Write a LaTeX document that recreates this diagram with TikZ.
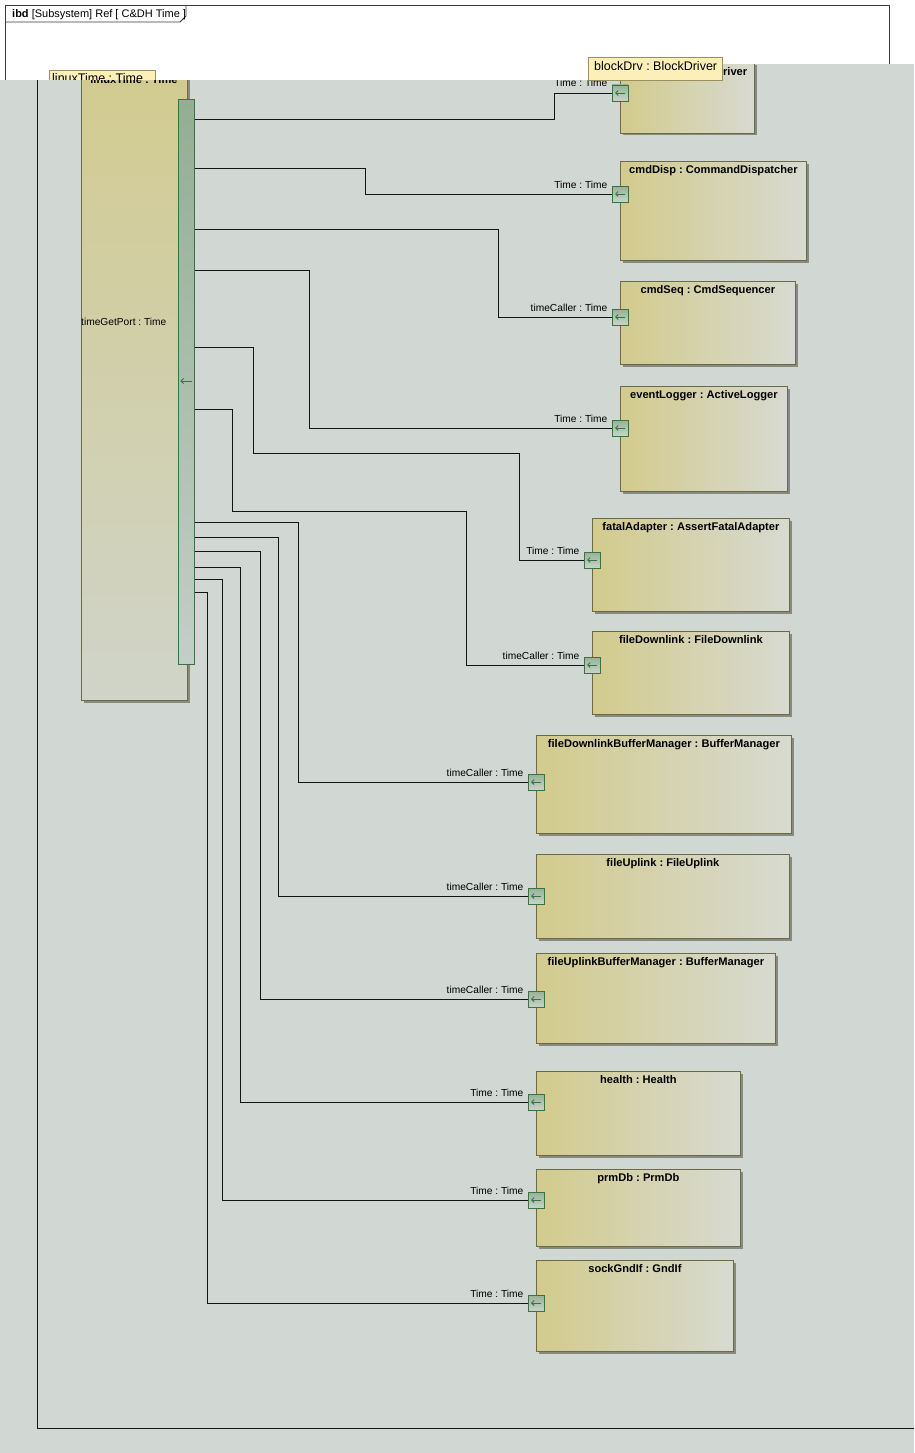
\documentclass[tikz,border=0pt]{standalone}
\usepackage{fontspec}
\setmainfont{Liberation Sans}
\usetikzlibrary{arrows.meta,calc}
\frenchspacing
\definecolor{bg}{HTML}{D1D7D2}
\definecolor{blkL}{HTML}{D3CB8D}
\definecolor{blkR}{HTML}{D7DAD1}
\definecolor{blkB}{HTML}{6B6B45}
\definecolor{shad}{HTML}{868A80}
\definecolor{portB}{HTML}{3E7046}
\definecolor{portT}{HTML}{97B197}
\definecolor{portBo}{HTML}{C8D5CA}
\definecolor{stripT}{HTML}{93AE93}
\definecolor{stripBo}{HTML}{C3CEC7}
\definecolor{ltT}{HTML}{D2CB90}
\definecolor{ltB}{HTML}{D0D4C9}
\definecolor{tabF}{HTML}{FCF0B8}
\definecolor{tabB}{HTML}{9C8F5E}
\definecolor{wirec}{HTML}{141414}
\definecolor{framec}{HTML}{3A3A3A}
\tikzset{
  blockbox/.style={draw=blkB, line width=0.8pt, left color=blkL, right color=blkR, inner sep=0pt, anchor=north west},
  titletext/.style={font=\fontsize{11.1}{13}\selectfont\bfseries, inner sep=0pt, text=black},
  porttext/.style={font=\fontsize{10.2}{12}\selectfont, inner sep=0pt, text=black},
  port/.style={draw=portB, line width=0.8pt, top color=portT, bottom color=portBo, minimum size=16pt, inner sep=0pt},
  parr/.style={draw=portB, line width=0.9pt, -{Straight Barb[length=2.5pt,width=5pt]}},
  stripbox/.style={draw=portB, line width=0.8pt, top color=stripT, bottom color=stripBo, inner sep=0pt, anchor=north west},
  wire/.style={draw=wirec, line width=0.9pt},
  framel/.style={draw=framec, line width=0.8pt},
  tabbox/.style={draw=tabB, line width=0.7pt, fill=tabF, inner sep=0pt, anchor=north west},
  tabtext/.style={font=\fontsize{12.5}{14}\selectfont, inner sep=0pt, text=black}
}
% block: name, x1, y1, x2, y2, title
\newcommand\blk[6]{%
  \fill[shad] (#2+2.5,#3+2.5) rectangle (#4+2.5,#5+2.5);
  \node[blockbox, minimum width={(#4-#2)*1pt}, minimum height={(#5-#3)*1pt}] (#1) at (#2,#3) {};
  \node[titletext, anchor=base] (#1-t) at ($(#1.north)+(0,12.5)$) {#6};
}
% port: name, block, y, label
\newcommand\prt[4]{%
  \node[port] (#1) at (#2.west |- 0,#3) {};
  \draw[parr] ($(#1.center)+(5,0)$) -- ($(#1.center)+(-5,0)$);
  \node[porttext, anchor=base east] (#1-l) at ($(#1.west)+(-4,-6)$) {#4};
}
\begin{document}
\begin{tikzpicture}[x=1pt,y=-1pt]
\useasboundingbox (0,0) rectangle (914,1453);
\fill[bg] (0,0) rectangle (914,1453);
\draw[wire] (37,80) -- (37,1428) -- (914,1428);

% linuxTime part with its port strip
\fill[shad] (83.5,72.5) rectangle (189.5,702.5);
\node[draw=blkB, line width=0.8pt, top color=ltT, bottom color=ltB, inner sep=0pt, anchor=north west, minimum width=106pt, minimum height=630pt] (lt) at (81,70) {};
\node[titletext, anchor=base] (lt-t) at (134,84) {linuxTime : Time};
\node[porttext, anchor=base west] (lt-l) at (81,325) {timeGetPort : Time};
\node[stripbox, minimum width=16pt, minimum height=565pt] (strip) at (178,99) {};
\draw[parr] ($(strip.center |- 0,381)+(6,0)$) -- ($(strip.center |- 0,381)+(-6,0)$);

% blocks
\blk{bd}{620}{63}{754}{133}{blockDrv : BlockDriver}
\blk{cd}{620}{161}{806}{260}{cmdDisp : CommandDispatcher}
\blk{cs}{620}{281}{795}{364}{cmdSeq : CmdSequencer}
\blk{el}{620}{386}{787}{491}{eventLogger : ActiveLogger}
\blk{fa}{592}{518}{789}{611}{fatalAdapter : AssertFatalAdapter}
\blk{fd}{592}{631}{789}{714}{fileDownlink : FileDownlink}
\blk{fdb}{536}{735}{791}{833}{fileDownlinkBufferManager : BufferManager}
\blk{fu}{536}{854}{789}{938}{fileUplink : FileUplink}
\blk{fub}{536}{953}{775}{1043}{fileUplinkBufferManager : BufferManager}
\blk{he}{536}{1071}{740}{1155}{health : Health}
\blk{pd}{536}{1169}{740}{1246}{prmDb : PrmDb}
\blk{sg}{536}{1260}{733}{1351}{sockGndIf : GndIf}

% ports
\prt{p1}{bd}{93}{Time : Time}
\prt{p2}{cd}{194}{Time : Time}
\prt{p3}{cs}{317}{timeCaller : Time}
\prt{p4}{el}{428}{Time : Time}
\prt{p5}{fa}{560}{Time : Time}
\prt{p6}{fd}{665}{timeCaller : Time}
\prt{p7}{fdb}{782}{timeCaller : Time}
\prt{p8}{fu}{896}{timeCaller : Time}
\prt{p9}{fub}{999}{timeCaller : Time}
\prt{p10}{he}{1102}{Time : Time}
\prt{p11}{pd}{1200}{Time : Time}
\prt{p12}{sg}{1303}{Time : Time}

% connectors
\draw[wire] (strip.east |- 0,119) -- (554,119) |- (p1.west);
\draw[wire] (strip.east |- 0,168) -- (365,168) |- (p2.west);
\draw[wire] (strip.east |- 0,229) -- (498,229) |- (p3.west);
\draw[wire] (strip.east |- 0,270) -- (309,270) |- (p4.west);
\draw[wire] (strip.east |- 0,347) -- (253,347) -- (253,453) -- (519,453) |- (p5.west);
\draw[wire] (strip.east |- 0,409) -- (232,409) -- (232,511) -- (466,511) |- (p6.west);
\draw[wire] (strip.east |- 0,522) -- (298,522) |- (p7.west);
\draw[wire] (strip.east |- 0,537) -- (278,537) |- (p8.west);
\draw[wire] (strip.east |- 0,551) -- (260,551) |- (p9.west);
\draw[wire] (strip.east |- 0,567) -- (240,567) |- (p10.west);
\draw[wire] (strip.east |- 0,579) -- (222,579) |- (p11.west);
\draw[wire] (strip.east |- 0,592) -- (207,592) |- (p12.west);

% white top area of the diagram frame
\fill[white] (0,0) -- (914,0) -- (914,64) -- (620,64) -- (620,80) -- (0,80) -- cycle;
\draw[framel] (5,80) -- (5,5) -- (889,5) -- (889,64);
\draw[framel] (5,22) -- (180,22) -- (186,16) -- (186,5);
\node[font=\fontsize{11}{13}\selectfont, inner sep=0pt, anchor=base west] (frametitle) at (12,18) {\textbf{ibd} [Subsystem] Ref [ C\&DH Time ]};

% part name tabs
\begin{scope}
  \clip (0,0) rectangle (914,80);
  \node[tabbox, minimum width=106pt, minimum height=20pt] (lttab) at (49,70) {};
  \node[tabtext, anchor=base west] (lttab-t) at (52,82.5) {linuxTime : Time};
\end{scope}
\node[tabbox, minimum width=134pt, minimum height=23pt] (bdtab) at (588,57) {};
\node[tabtext, anchor=base west] (bdtab-t) at (594,71) {blockDrv : BlockDriver};
\end{tikzpicture}
\end{document}
